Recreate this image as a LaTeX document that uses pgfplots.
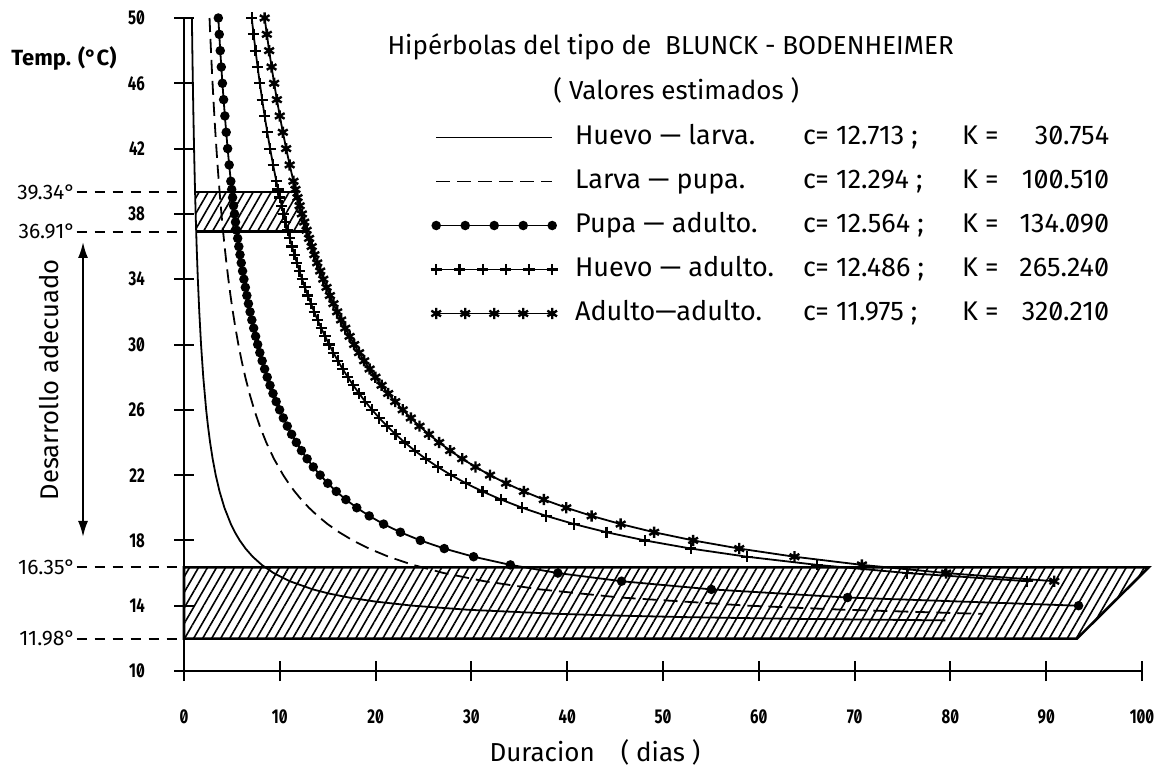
\documentclass[border=0pt]{standalone}
\usepackage{fontspec}
\setmainfont{Fira Sans}[Numbers=SlashedZero]
\newfontfamily\tickfont{Fira Sans}[FakeStretch=0.75, Numbers=SlashedZero]
\usepackage{pgfplots}
\pgfplotsset{compat=1.18}
\usetikzlibrary{patterns.meta,arrows.meta}

\pgfplotsset{
  legline/.style={legend image code/.code={\draw[##1] (0pt,0pt) -- (58pt,0pt); \path (69pt,0pt);}},
  legfive/.style={legend image code/.code={\draw[##1] plot coordinates {(0pt,0pt) (14.5pt,0pt) (29pt,0pt) (43.5pt,0pt) (58pt,0pt)}; \path (69pt,0pt);}},
  legsix/.style={legend image code/.code={\draw[##1] plot coordinates {(0pt,0pt) (11.6pt,0pt) (23.2pt,0pt) (34.8pt,0pt) (46.4pt,0pt) (58pt,0pt)}; \path (69pt,0pt);}},
}

% curves T = c + K/D (D in days, T in degrees)
\pgfplotstableread{
D T
0.825 50
0.872 48
0.924 46
0.983 44
1.050 42
1.127 40
1.216 38
1.321 36
1.445 34
1.595 32
1.779 30
2.012 28
2.315 26
2.503 25
2.725 24
2.990 23
3.312 22
3.711 21
4.220 20
4.892 19
5.314 18.5
5.817 18
6.425 17.5
7.174 17
8.121 16.5
9.356 16
11.035 15.5
13.447 15
15.098 14.75
17.210 14.5
20.009 14.25
23.896 14
29.657 13.75
39.078 13.5
44.766 13.4
52.392 13.3
63.150 13.2
79.468 13.1
}\huevolarva

\pgfplotstableread{
D T
2.666 50
2.738 49
2.815 48
2.896 47
2.982 46
3.073 45
3.170 44
3.273 43
3.384 42
3.501 41
3.628 40
3.764 39
3.910 38
4.068 37
4.240 36
4.427 35
4.631 34
4.854 33
5.101 32
5.373 31
5.677 30
6.016 29
6.400 28
6.835 27
7.333 26
7.911 25
8.586 24
9.388 23
10.355 22
10.918 21.5
11.545 21
12.248 20.5
13.043 20
13.948 19.5
14.988 19
16.196 18.5
17.615 18
19.307 17.5
21.358 17
23.897 16.5
27.121 16
31.351 15.5
37.144 15
45.562 14.5
58.916 14
69.032 13.75
83.342 13.5
}\larvapupa

\pgfplotstableread{
D T
3.582 50
3.680 49
3.784 48
3.894 47
4.010 46
4.134 45
4.266 44
4.406 43
4.555 42
4.715 41
4.887 40
4.978 39.5
5.072 39
5.170 38.5
5.272 38
5.377 37.5
5.487 37
5.602 36.5
5.722 36
5.846 35.5
5.977 35
6.113 34.5
6.255 34
6.405 33.5
6.561 33
6.726 32.5
6.899 32
7.081 31.5
7.273 31
7.476 30.5
7.690 30
7.917 29.5
8.158 29
8.414 28.5
8.687 28
8.978 27.5
9.289 27
9.622 26.5
9.980 26
10.366 25.5
10.782 25
11.234 24.5
11.725 24
12.261 23.5
12.849 23
13.496 22.5
14.211 22
15.006 21.5
15.895 21
16.897 20.5
18.033 20
19.333 19.5
20.834 19
22.589 18.5
24.667 18
27.166 17.5
30.228 17
34.068 16.5
39.025 16
45.671 15.5
55.045 15
69.262 14.5
93.377 14
}\pupaadulto

\pgfplotstableread{
D T
7.071 50
7.264 49
7.469 48
7.685 47
7.914 46
8.158 45
8.417 44
8.692 43
8.987 42
9.302 41
9.640 40
9.819 39.5
10.004 39
10.196 38.5
10.396 38
10.604 37.5
10.820 37
11.045 36.5
11.280 36
11.525 35.5
11.781 35
12.049 34.5
12.329 34
12.622 33.5
12.930 33
13.253 32.5
13.592 32
13.950 31.5
14.327 31
14.724 30.5
15.145 30
15.590 29.5
16.062 29
16.563 28.5
17.097 28
17.666 27.5
18.275 27
18.927 26.5
19.627 26
20.381 25.5
21.195 25
22.078 24.5
23.036 24
24.082 23.5
25.227 23
26.487 22.5
27.879 22
29.425 21.5
31.154 21
33.097 20.5
35.299 20
37.816 19.5
40.719 19
44.104 18.5
48.103 18
52.900 17.5
58.759 17
66.079 16.5
75.481 16
88.003 15.5
}\huevoadulto

\pgfplotstableread{
D T
8.421 50
8.648 49
8.889 48
9.142 47
9.411 46
9.696 45
9.999 44
10.321 43
10.665 42
11.032 41
11.426 40
11.633 39.5
11.849 39
12.072 38.5
12.304 38
12.545 37.5
12.796 37
13.056 36.5
13.328 36
13.611 35.5
13.907 35
14.216 34.5
14.539 34
14.876 33.5
15.230 33
15.601 32.5
15.990 32
16.400 31.5
16.831 31
17.285 30.5
17.765 30
18.272 29.5
18.808 29
19.377 28.5
19.982 28
20.625 27.5
21.312 27
22.046 26.5
22.831 26
23.675 25.5
24.584 25
25.566 24.5
26.629 24
27.784 23.5
29.044 23
30.424 22.5
31.941 22
33.618 21.5
35.480 21
37.561 20.5
39.902 20
42.553 19.5
45.581 19
49.074 18.5
53.147 18
57.957 17.5
63.723 17
70.765 16.5
79.555 16
90.840 15.5
}\adultoadulto

\begin{document}
\begin{tikzpicture}
\useasboundingbox (-92pt,-50pt) rectangle (485pt,335.5pt);
\begin{axis}[
  at={(0,0)}, anchor=south west,
  width=479pt, height=326.5pt, scale only axis,
  xmin=0, xmax=100, ymin=10, ymax=50,
  axis lines=left, axis line style={-, line width=1pt},
  xtick={0,10,...,100}, ytick={10,14,...,50},
  tick align=center, major tick length=10pt,
  tick style={line width=1pt, black},
  /pgf/number format/assume math mode=true,
  ticklabel style={font=\tickfont\fontsize{10}{10}\selectfont\bfseries},
  xticklabel style={yshift=-11pt},
  yticklabel style={xshift=-11pt},
  clip=false,
  legend cell align=left,
  legend style={at={(axis cs:25.7,43.5)}, anchor=north west, draw=none, fill=none,
    inner sep=0pt, column sep=0pt, row sep=9pt,
    nodes={inner sep=0pt, text height=10pt, text depth=3pt, font=\fontsize{13.5}{15}\selectfont}},
]
% hatched zones
\draw[pattern={Lines[angle=60, distance=3.9pt, line width=0.8pt]}, line width=1.3pt]
  (axis cs:0,16.35) -- (axis cs:100.7,16.35) -- (axis cs:93.2,11.98) -- (axis cs:0,11.98) -- cycle;
\fill[pattern={Lines[angle=60, distance=3.9pt, line width=0.8pt]}]
  (axis cs:1.155,39.34) -- (axis cs:11.70,39.34) -- (axis cs:12.84,36.91) -- (axis cs:1.27,36.91) -- cycle;
\draw[line width=1.3pt] (axis cs:1.155,39.34) -- (axis cs:11.70,39.34);
\draw[line width=1.3pt] (axis cs:1.27,36.91) -- (axis cs:12.84,36.91);

\addplot[black, line width=0.9pt, legline] table {\huevolarva};
\addlegendentry{\makebox[114pt][l]{Huevo — larva.}\makebox[79.5pt][l]{c= 12.713 ;}\makebox[73.5pt][s]{K =\hfill 30.754}}

\addplot[black, line width=0.9pt, dash pattern=on 7pt off 3.5pt, legline] table {\larvapupa};
\addlegendentry{\makebox[114pt][l]{Larva — pupa.}\makebox[79.5pt][l]{c= 12.294 ;}\makebox[73.5pt][s]{K =\hfill 100.510}}

\addplot[black, line width=0.9pt, mark=*, mark size=1.9pt, mark options={solid, fill=black}, legfive] table {\pupaadulto};
\addlegendentry{\makebox[114pt][l]{Pupa — adulto.}\makebox[79.5pt][l]{c= 12.564 ;}\makebox[73.5pt][s]{K =\hfill 134.090}}

\addplot[black, line width=0.9pt, mark=+, mark size=2.8pt, mark options={solid, line width=1.1pt}, legsix] table {\huevoadulto};
\addlegendentry{\makebox[114pt][l]{Huevo — adulto.}\makebox[79.5pt][l]{c= 12.486 ;}\makebox[73.5pt][s]{K =\hfill 265.240}}

\addplot[black, line width=0.9pt, mark=asterisk, mark size=2.8pt, mark options={solid, line width=1.2pt}, legfive] table {\adultoadulto};
\addlegendentry{\makebox[114pt][l]{Adulto—adulto.}\makebox[79.5pt][l]{c= 11.975 ;}\makebox[73.5pt][s]{K =\hfill 320.210}}

% reference temperatures
\draw[line width=0.9pt, dash pattern=on 5pt off 4pt] (axis cs:-11.2,39.34) -- (axis cs:0,39.34);
\draw[line width=0.9pt, dash pattern=on 5pt off 4pt] (axis cs:-11.2,36.91) -- (axis cs:0,36.91);
\draw[line width=0.9pt, dash pattern=on 5pt off 4pt] (axis cs:-11.2,16.35) -- (axis cs:0,16.35);
\draw[line width=0.9pt, dash pattern=on 5pt off 4pt] (axis cs:-11.2,11.98) -- (axis cs:0,11.98);
\node[anchor=east, inner sep=0pt, font=\fontsize{10.5}{12}\selectfont] at (axis cs:-11.3,39.34) {39.34°};
\node[anchor=east, inner sep=0pt, font=\fontsize{10.5}{12}\selectfont] at (axis cs:-11.3,36.91) {36.91°};
\node[anchor=east, inner sep=0pt, font=\fontsize{10.5}{12}\selectfont] at (axis cs:-11.3,16.35) {16.35°};
\node[anchor=east, inner sep=0pt, font=\fontsize{10.5}{12}\selectfont] at (axis cs:-11.3,11.98) {11.98°};

\draw[{Latex[length=8pt,width=5pt]}-{Latex[length=8pt,width=5pt]}, line width=1pt]
  (axis cs:-10.54,36.28) -- (axis cs:-10.54,18.21);
\node[rotate=90, font=\fontsize{12.8}{15}\selectfont] at (axis cs:-14.09,27.83) {Desarrollo adecuado};
\node[font=\fontsize{11}{13}\selectfont\bfseries] at (axis cs:-12.53,47.55) {Temp. (°C)};
\node[font=\fontsize{13}{15}\selectfont] at (axis cs:50.8,48.22) {Hipérbolas del tipo de\ \ BLUNCK - BODENHEIMER};
\node[font=\fontsize{13}{15}\selectfont] at (axis cs:51.4,45.59) {( Valores estimados )};
\node[font=\fontsize{13}{15}\selectfont] at (axis cs:42.9,5.04) {Duracion\quad( dias )};
\end{axis}
\end{tikzpicture}
\end{document}
